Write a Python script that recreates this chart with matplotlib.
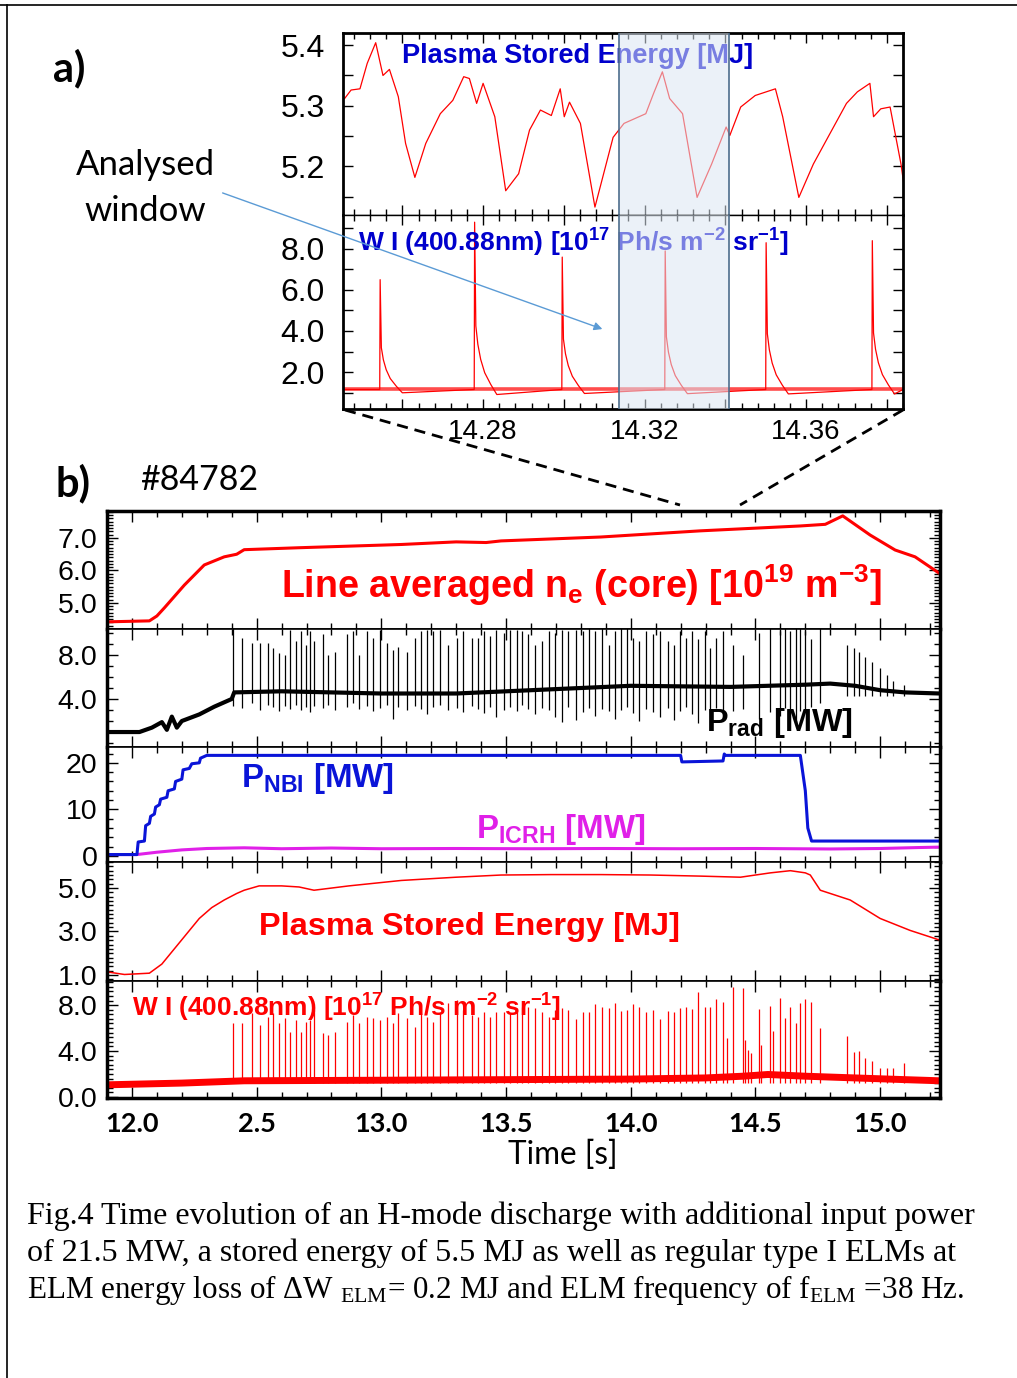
import matplotlib
matplotlib.use("Agg")
import matplotlib.pyplot as plt
from matplotlib import font_manager
from matplotlib.lines import Line2D
from matplotlib.patches import FancyArrowPatch
from matplotlib.ticker import AutoMinorLocator, MultipleLocator

# ---------------- data ----------------
# panel a) zoom: stored energy [MJ]
a_wmhd_t = [14.2457, 14.2473, 14.2495, 14.2513, 14.2534, 14.2552, 14.2568, 14.2590, 14.2608, 14.2631,
            14.2658, 14.2694, 14.2725, 14.2752, 14.2766, 14.2784, 14.2800, 14.2829, 14.2856, 14.2888,
            14.2915, 14.2942, 14.2969, 14.2991, 14.3001, 14.3014, 14.3041, 14.3077, 14.3122, 14.3149,
            14.3203, 14.3222, 14.3244, 14.3262, 14.3294, 14.3330, 14.3366, 14.3402, 14.3411, 14.3438,
            14.3474, 14.3524, 14.3542, 14.3582, 14.3618, 14.3654, 14.3700, 14.3727, 14.3758, 14.3767,
            14.3785, 14.3808, 14.3835, 14.3842]
a_wmhd_v = [5.312, 5.326, 5.328, 5.370, 5.404, 5.350, 5.360, 5.315, 5.238, 5.182,
            5.238, 5.287, 5.309, 5.348, 5.345, 5.304, 5.337, 5.282, 5.160, 5.188,
            5.260, 5.293, 5.284, 5.328, 5.282, 5.306, 5.271, 5.133, 5.248, 5.271,
            5.287, 5.320, 5.356, 5.312, 5.287, 5.149, 5.204, 5.265, 5.251, 5.298,
            5.317, 5.328, 5.282, 5.149, 5.204, 5.248, 5.304, 5.323, 5.337, 5.282,
            5.295, 5.298, 5.204, 5.171]
# panel a) zoom: W I line, ELM times and peaks
a_elm_t = [14.2545, 14.2779, 14.2996, 14.3251, 14.3501, 14.3764]
a_elm_peak = [6.5, 9.3, 7.6, 7.9, 8.3, 8.4]
a_wi_base = 1.15
decay_dt = [-0.0001, 0.0, 0.0003, 0.0008, 0.0015, 0.0025, 0.0040, 0.0055]
decay_fr = [0.0, 1.0, 0.38, 0.27, 0.18, 0.10, 0.03, -0.03]
a_window = [14.3137, 14.3409]
a_xticks = [14.26, 14.28, 14.30, 14.32, 14.34, 14.36, 14.38]
a_xlabels = ["", "14.28", "", "14.32", "", "14.36", ""]

# panel b) shot #84782
ne_t = [11.90, 12.07, 12.10, 12.13, 12.21, 12.29, 12.37, 12.42, 12.45, 12.67, 13.08, 13.30, 13.42,
        13.48, 13.88, 14.28, 14.68, 14.78, 14.85, 14.96, 15.06, 15.14, 15.24]
ne_v = [4.42, 4.45, 4.60, 4.85, 5.55, 6.17, 6.42, 6.50, 6.64, 6.70, 6.80, 6.88, 6.86,
        6.91, 7.03, 7.22, 7.37, 7.42, 7.68, 7.09, 6.63, 6.42, 5.90]

prad_t = [11.90, 12.03, 12.08, 12.12, 12.14, 12.16, 12.18, 12.20, 12.27, 12.33, 12.40, 12.41, 12.6,
          12.8, 13.0, 13.3, 13.5, 13.8, 14.0, 14.4, 14.7, 14.8, 14.9, 15.0, 15.1, 15.24]
prad_v = [1.0, 1.0, 1.4, 1.9, 1.2, 2.4, 1.4, 2.0, 2.6, 3.3, 4.0, 4.6, 4.7,
          4.6, 4.5, 4.5, 4.7, 5.0, 5.2, 5.1, 5.3, 5.4, 5.2, 4.8, 4.6, 4.5]

nbi_t = [11.90, 12.02, 12.025, 12.05, 12.055, 12.07, 12.075, 12.09, 12.095, 12.11, 12.115, 12.14,
         12.145, 12.17, 12.175, 12.20, 12.205, 12.23, 12.24, 12.27, 12.275, 12.30, 14.20, 14.205,
         14.37, 14.375, 14.38, 14.68, 14.70, 14.71, 14.725, 15.24]
nbi_v = [0.3, 0.3, 3.0, 3.2, 6.5, 7.0, 8.5, 9.0, 10.5, 11.0, 12.2, 12.6,
         14.0, 14.4, 16.0, 16.5, 18.5, 18.8, 19.8, 20.0, 21.0, 21.6, 21.6, 20.2,
         20.4, 21.9, 21.6, 21.6, 14.0, 6.0, 3.2, 3.2]

icrh_t = [11.90, 12.02, 12.10, 12.20, 12.30, 12.45, 12.6, 12.8, 13.0, 13.3, 13.6, 13.9, 14.2,
          14.5, 14.8, 15.0, 15.15, 15.24]
icrh_v = [0.3, 0.3, 0.8, 1.3, 1.6, 1.75, 1.55, 1.7, 1.55, 1.6, 1.55, 1.6, 1.55,
          1.6, 1.5, 1.6, 1.8, 1.9]

wmhd_t = [11.90, 11.97, 12.07, 12.12, 12.17, 12.22, 12.27, 12.32, 12.37, 12.42, 12.45, 12.51, 12.60,
          12.67, 12.73, 12.80, 12.87, 13.08, 13.30, 13.48, 13.68, 13.88, 14.08, 14.28, 14.44, 14.50,
          14.56, 14.64, 14.70, 14.72, 14.76, 14.88, 15.00, 15.12, 15.24]
wmhd_v = [1.14, 1.02, 1.08, 1.5, 2.2, 2.9, 3.6, 4.1, 4.45, 4.75, 4.9, 5.1, 5.1,
          5.05, 4.9, 5.0, 5.1, 5.35, 5.5, 5.6, 5.62, 5.62, 5.6, 5.55, 5.5, 5.6,
          5.7, 5.8, 5.7, 5.6, 4.9, 4.45, 3.6, 3.05, 2.6]

wi_base_t = [11.90, 12.2, 12.45, 13.0, 13.5, 14.0, 14.3, 14.45, 14.55, 14.7, 14.9, 15.1, 15.24]
wi_base_v = [1.05, 1.2, 1.4, 1.45, 1.5, 1.55, 1.65, 1.8, 1.95, 1.8, 1.65, 1.5, 1.4]

elm_t = [12.406, 12.440, 12.480, 12.513, 12.547, 12.567, 12.591, 12.614, 12.634, 12.658,
         12.678, 12.698, 12.714, 12.731, 12.765, 12.787, 12.814, 12.861, 12.885, 12.912,
         12.941, 12.968, 12.995, 13.022, 13.046, 13.068, 13.102, 13.135, 13.158, 13.182,
         13.209, 13.235, 13.269, 13.302, 13.329,
         13.363, 13.389, 13.412, 13.436, 13.460, 13.490, 13.516, 13.543, 13.563, 13.590,
         13.616, 13.643, 13.674, 13.697, 13.724, 13.750, 13.781, 13.808, 13.831, 13.857,
         13.884, 13.911, 13.938, 13.960, 13.984, 14.011, 14.035, 14.062, 14.089, 14.118,
         14.148, 14.172, 14.199, 14.223, 14.246, 14.271, 14.299,
         14.316, 14.341, 14.369, 14.409, 14.450, 14.514, 14.557, 14.597, 14.619, 14.639,
         14.662, 14.680, 14.700, 14.722, 14.757]
wi_peak = [6.41, 6.41, 7.28, 6.26, 6.99, 7.28, 6.41, 6.84, 5.68, 6.70,
           5.68, 6.55, 6.70, 7.57, 5.54, 5.39, 5.68, 6.55, 7.13, 6.41,
           6.99, 6.84, 6.70, 6.99, 6.41, 7.28, 6.84, 6.12, 7.28, 6.99,
           6.55, 7.28, 8.20, 8.43, 7.57,
           7.13, 6.99, 7.42, 6.99, 7.42, 7.42, 7.28, 7.71, 7.86, 7.86,
           7.71, 7.42, 6.99, 7.57, 7.71, 7.57, 6.75, 7.42, 7.42, 8.09,
           7.86, 7.71, 8.20, 7.51, 7.57, 8.09, 7.86, 7.42, 7.57, 6.75,
           7.51, 7.42, 7.71, 7.86, 7.62, 9.16, 7.86,
           7.86, 8.52, 8.29, 9.54, 9.45, 7.65, 7.91, 8.58, 6.84, 7.86,
           6.46, 8.14, 8.52, 8.29, 5.97]
prad_peak = [11, 9.58, 9.06, 9.06, 9.06, 8.6, 8.15, 8.0, 10.27, 9.27,
             10.15, 8.91, 10.15, 9.27, 9.88, 8.0, 8.3, 9.88, 10.15, 8.0,
             10.15, 9.58, 10.27, 9.06, 8.45, 8.75, 8.3, 9.58, 10.15, 10.27,
             10.15, 10.27, 8.91, 9.58, 10.15, 9.58, 9.58, 10.15, 9.7, 10.27,
             10.0, 10.27, 10.27, 10.15, 9.88, 8.91, 9.27, 10.15, 10.0, 10.27,
             10.15, 10.27,
             10.15, 11, 10.15, 11, 8.91, 10.15, 11, 11, 9.58, 9.27,
             10.15, 9.88, 10.15, 9.27, 8.91, 10.15, 9.58, 10.15, 9.42, 10.15,
             8.6, 9.58, 10.15, 8.91, 8.0, 10.0, 11, 10.15, 11, 10.15,
             11, 11, 10.15, 9.42, 11]
prad_dip = [3.4, 3.2, 3.6, 3.0, 3.5, 3.3, 2.9, 3.4, 3.1, 3.5,
            3.0, 3.3, 2.8, 3.4, 3.2, 3.5, 3.0, 3.3, 3.6, 3.1,
            3.4, 2.9, 3.2, 3.5, 2.2, 3.3, 3.0, 3.4, 3.1, 2.6,
            3.3, 3.5, 3.0, 3.2, 2.8, 3.4, 3.1, 2.7, 3.3, 2.4,
            3.0, 3.3, 2.9, 3.5, 3.1, 2.6, 3.2, 3.0, 2.4, 1.9,
            3.3, 2.1, 2.8, 3.2, 2.5, 3.1, 2.9, 2.2, 3.0, 3.3,
            2.7, 2.0, 3.1, 2.8, 2.4, 3.2, 2.1, 2.9, 3.3, 2.6,
            1.8, 3.0, 2.7, 3.2, 2.3, 2.9, 3.1, 2.2, 2.8, 2.5,
            3.2, 2.7, 1.9, 2.9, 3.0, 3.3, 3.6]
tail_t = [14.867, 14.896, 14.914, 14.940, 14.967, 15.000, 15.027, 15.051, 15.097]
wi_tail = [5.33, 3.94, 4.03, 3.36, 3.13, 2.49, 2.49, 2.49, 2.93]
prad_tail = [8.9, 8.6, 8.3, 7.85, 7.4, 6.8, 6.2, 5.6, 5.3]
wi_sec_t = [14.385, 14.459, 14.472, 14.482, 14.523, 14.570]
wi_sec = [5.1, 5.0, 4.1, 3.8, 4.5, 5.7]

b_xticks = [12.0, 12.5, 13.0, 13.5, 14.0, 14.5, 15.0]
b_xlabels = ["12.0", "2.5", "13.0", "13.5", "14.0", "14.5", "15.0"]

caption = ["Fig.4 Time evolution of an H-mode discharge with additional input power",
           "of 21.5 MW, a stored energy of 5.5 MJ as well as regular type I ELMs at",
           r"ELM energy loss of ΔW $\mathregular{_{ELM}}$= 0.2 MJ and ELM frequency of f$\mathregular{_{ELM}}$ =38 Hz."]
caption_size = [23, 23, 22.4]

# ---------------- styling ----------------
names = {f.name for f in font_manager.fontManager.ttflist}
SANS = "Liberation Sans"
CAL = "Lato"
SERIF = "Liberation Serif"
if "Liberation Sans Narrow" in names:
    NARROW, nsc = "Liberation Sans Narrow", 1.0
else:
    NARROW, nsc = "Liberation Sans", 0.82

RED = "#ff0000"
W, H = 1017, 1378


def fx(px):
    return px / W


def fy(py):
    return 1 - py / H


fig = plt.figure(figsize=(W / 100, H / 100), dpi=100)

# page frame
fig.add_artist(Line2D([0, 1], [fy(5), fy(5)], color="k", lw=1.2))
fig.add_artist(Line2D([fx(7), fx(7)], [0, fy(5)], color="k", lw=1.2))

# ---------------- panel a) ----------------
axA1 = fig.add_axes([fx(343), fy(215), 560 / W, 182 / H])
axA2 = fig.add_axes([fx(343), fy(409), 560 / W, 194 / H])

axA1.plot(a_wmhd_t, a_wmhd_v, color=RED, lw=0.9)
axA1.set_ylim(5.12, 5.42)
axA1.set_yticks([5.15, 5.2, 5.25, 5.3, 5.35, 5.4])
axA1.set_yticklabels(["", "5.2", "", "5.3", "", "5.4"])

a_wi_t, a_wi_v = [14.2453], [a_wi_base]
for t0, pk in zip(a_elm_t, a_elm_peak):
    for dt, fr in zip(decay_dt, decay_fr):
        a_wi_t.append(t0 + dt)
        a_wi_v.append(a_wi_base + fr * (pk - a_wi_base))
a_wi_t.append(14.384)
a_wi_v.append(a_wi_base)
axA2.plot([14.2453, 14.384], [a_wi_base, a_wi_base], color=RED, lw=2.6, alpha=0.7)
axA2.plot(a_wi_t, a_wi_v, color=RED, lw=0.9)
axA2.set_ylim(0.2, 9.65)
axA2.set_yticks([1, 2, 3, 4, 5, 6, 7, 8, 9])
axA2.set_yticklabels(["", "2.0", "", "4.0", "", "6.0", "", "8.0", ""])

for ax in (axA1, axA2):
    ax.set_xlim(14.2453, 14.384)
    ax.set_xticks(a_xticks)
    ax.xaxis.set_minor_locator(MultipleLocator(0.004))
    ax.tick_params(which="both", direction="in", top=True, right=True, width=1)
    ax.tick_params(which="major", length=7)
    ax.tick_params(which="minor", length=4)
    ax.tick_params(axis="y", pad=13, labelsize=23)
    ax.tick_params(axis="x", pad=7, labelsize=20)
    for s in ax.spines.values():
        s.set_linewidth(2)
    ax.axvspan(a_window[0], a_window[1], color="#dce7f3", alpha=0.55, lw=0, zorder=4)
    for xw in a_window:
        ax.axvline(xw, color="#4d6d8c", lw=1.2, zorder=5)
axA1.set_xticklabels([])
axA2.set_xticklabels(a_xlabels)
for ax in (axA1, axA2):
    for lab in ax.get_xticklabels() + ax.get_yticklabels():
        lab.set_fontfamily(SANS)
axA1.spines["bottom"].set_linewidth(1)
axA2.spines["top"].set_linewidth(1)

axA1.text(0.105, 0.874, "Plasma Stored Energy [MJ]", transform=axA1.transAxes, color="#0000cc",
          fontsize=19.5, fontweight="bold", family=SANS, va="center", zorder=3)
axA2.text(0.027, 0.856, r"W I (400.88nm) [10$\mathregular{^{17}}$ Ph/s m$\mathregular{^{-2}}$ sr$\mathregular{^{-1}}$]",
          transform=axA2.transAxes, color="#0000cc", fontsize=19, fontweight="bold",
          family=SANS, va="center", zorder=3)

fig.text(fx(69), fy(68), "a)", fontsize=30, fontweight="bold", family=CAL, ha="center", va="center")
fig.text(fx(145), fy(165), "Analysed", fontsize=25, family=CAL, ha="center", va="center")
fig.text(fx(145), fy(211), "window", fontsize=25, family=CAL, ha="center", va="center")
fig.add_artist(FancyArrowPatch((fx(220), fy(192)), (fx(605), fy(330)), transform=fig.transFigure,
                               arrowstyle="-|>", mutation_scale=12, color="#5b9bd5", lw=1))
fig.add_artist(Line2D([fx(345), fx(680)], [fy(410), fy(505)], color="k", lw=2, dashes=(4, 2.5)))
fig.add_artist(Line2D([fx(903), fx(740)], [fy(410), fy(505)], color="k", lw=2, dashes=(4, 2.5)))

# ---------------- panel b) ----------------
fig.text(fx(73), fy(483), "b)", fontsize=30, fontweight="bold", family=CAL, ha="center", va="center")
fig.text(fx(140), fy(480), "#84782", fontsize=24.5, family=CAL, ha="left", va="center")

edges = [511, 629, 747, 862, 981, 1098]
axs = []
for i in range(5):
    axs.append(fig.add_axes([fx(107), fy(edges[i + 1]), 833 / W, (edges[i + 1] - edges[i]) / H]))
ax1, ax2, ax3, ax4, ax5 = axs

ax1.plot(ne_t, ne_v, color=RED, lw=2.2)
ax1.set_ylim(4.2, 7.83)
ax1.set_yticks([5.0, 6.0, 7.0])

ax2.plot(prad_t, prad_v, color="k", lw=3)
ax2.vlines(elm_t, prad_dip, prad_peak, color="k", lw=0.9)
ax2.vlines(tail_t, 4.3, prad_tail, color="k", lw=0.9)
ax2.set_ylim(-0.36, 10.36)
ax2.set_yticks([4.0, 8.0])

ax3.plot(icrh_t, icrh_v, color="#e020e8", lw=2.2)
ax3.plot(nbi_t, nbi_v, color="#0a14d8", lw=2.2)
ax3.set_ylim(-1.3, 23.4)
ax3.set_yticks([0, 10, 20])

ax4.plot(wmhd_t, wmhd_v, color=RED, lw=1.1)
ax4.set_ylim(0.72, 6.2)
ax4.set_yticks([1.0, 3.0, 5.0])

ax5.plot(wi_base_t, wi_base_v, color=RED, lw=5)
ax5.vlines(elm_t, 1.2, wi_peak, color=RED, lw=0.9)
ax5.vlines(tail_t, 1.2, wi_tail, color=RED, lw=0.9)
ax5.vlines(wi_sec_t, 1.2, wi_sec, color=RED, lw=0.9)
ax5.set_ylim(-0.1, 10.1)
ax5.set_yticks([0.0, 4.0, 8.0])

minors = [10, 4, 5, 10, 10]
for ax, mn in zip(axs, minors):
    ax.set_xlim(11.90, 15.24)
    ax.set_xticks(b_xticks)
    ax.xaxis.set_minor_locator(MultipleLocator(0.1))
    ax.yaxis.set_minor_locator(AutoMinorLocator(mn))
    ax.tick_params(which="both", direction="in", top=True, right=True, width=1)
    ax.tick_params(which="major", length=8)
    ax.tick_params(which="minor", length=4)
    ax.tick_params(axis="y", pad=7, labelsize=20.5)
    ax.yaxis.set_major_formatter(plt.FormatStrFormatter("%.1f" if ax is not ax3 else "%d"))
    for lab in ax.get_yticklabels():
        lab.set_fontfamily(SANS)
    for s in ax.spines.values():
        s.set_linewidth(1.2)
    ax.spines["left"].set_linewidth(2.5)
    ax.spines["right"].set_linewidth(2.5)
    if ax is not ax5:
        ax.set_xticklabels([])
ax1.spines["top"].set_linewidth(2.5)
ax5.spines["bottom"].set_linewidth(2.5)
ax5.set_xticklabels(b_xlabels)
ax5.tick_params(axis="x", pad=10, labelsize=19.5)
for lab in ax5.get_xticklabels():
    lab.set_fontfamily(CAL)
    lab.set_fontweight("bold")
fig.text(fx(563), fy(1155), "Time [s]", fontsize=22.7, family=CAL, ha="center", va="center")

lab_kw = dict(fontweight="bold", family=NARROW, va="center")
ax1.text(0.209, 0.373, r"Line averaged n$\mathregular{_e}$ (core) [10$\mathregular{^{19}}$ m$\mathregular{^{-3}}$]",
         transform=ax1.transAxes, color=RED, fontsize=33 * nsc, **lab_kw)
ax2.text(0.719, 0.20, r"P$\mathregular{_{rad}}$ [MW]", transform=ax2.transAxes, color="k",
         fontsize=28.5 * nsc, **lab_kw)
ax3.text(0.161, 0.73, r"P$\mathregular{_{NBI}}$ [MW]", transform=ax3.transAxes, color="#0a14d8",
         fontsize=29 * nsc, **lab_kw)
ax3.text(0.443, 0.28, r"P$\mathregular{_{ICRH}}$ [MW]", transform=ax3.transAxes, color="#e020e8",
         fontsize=29 * nsc, **lab_kw)
ax4.text(0.182, 0.454, "Plasma Stored Energy [MJ]", transform=ax4.transAxes, color=RED,
         fontsize=28.5 * nsc, **lab_kw)
ax5.text(0.030, 0.77, r"W I (400.88nm) [10$\mathregular{^{17}}$ Ph/s m$\mathregular{^{-2}}$ sr$\mathregular{^{-1}}$]",
         transform=ax5.transAxes, color=RED, fontsize=23 * nsc, zorder=1, **lab_kw)

# ---------------- caption ----------------
for i, line in enumerate(caption):
    fig.text(fx(27), fy(1216 + 37 * i), line, fontsize=caption_size[i], family=SERIF,
             ha="left", va="center")

fig.savefig("out.png", dpi=100)
